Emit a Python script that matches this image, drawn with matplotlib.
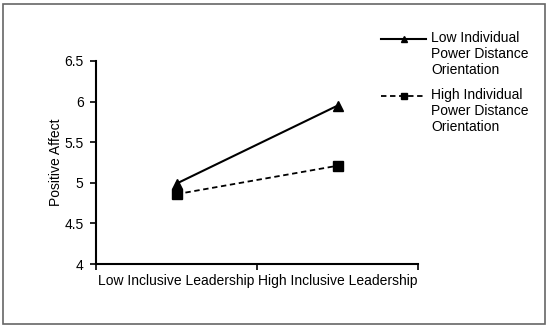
import matplotlib
matplotlib.use("Agg")
import matplotlib.pyplot as plt
from matplotlib.patches import Rectangle
from matplotlib.lines import Line2D

plt.rcParams['font.family'] = ['Liberation Sans', 'DejaVu Sans']

categories = ["Low Inclusive Leadership", "High Inclusive Leadership"]
low_pdo = [4.99, 5.95]
high_pdo = [4.86, 5.21]
series_names = ["Low Individual\nPower Distance\nOrientation",
                "High Individual\nPower Distance\nOrientation"]
yticks = [4, 4.5, 5, 5.5, 6, 6.5]
ytick_labels = ["4", "4.5", "5", "5.5", "6", "6.5"]

W, H = 550, 329
fig = plt.figure(figsize=(5.5, 3.29), dpi=100)
ax = fig.add_axes([96 / W, 1 - 264 / H, (418 - 96) / W, (264 - 61) / H])

xpos = [0.5, 1.5]
ax.plot(xpos, low_pdo, '-', color='black', lw=1.5, marker='^', ms=7)
ax.plot(xpos, high_pdo, '--', color='black', lw=1.3, marker='s', ms=7, dashes=(3, 2))

ax.set_xlim(0, 2)
ax.set_ylim(4, 6.5)
ax.set_yticks(yticks)
ax.set_yticklabels(ytick_labels, fontsize=10)
ax.set_xticks([0, 1, 2])
ax.set_xticklabels([])
ax.set_xticks(xpos, minor=True)
ax.set_xticklabels(categories, minor=True, fontsize=10)
ax.tick_params(axis='x', which='minor', length=0, pad=7)
ax.tick_params(axis='x', which='major', length=4, width=1.2, direction='out')
ax.tick_params(axis='y', length=4, width=1.2, direction='out', pad=5)
for s in ['top', 'right']:
    ax.spines[s].set_visible(False)
for s in ['left', 'bottom']:
    ax.spines[s].set_linewidth(1.5)
ax.set_ylabel("Positive Affect", fontsize=10, labelpad=1)

# manual legend (handle aligned with first text line)
styles = [dict(ls='-', marker='^', lw=1.5), dict(ls='--', marker='s', lw=1.3, dashes=(3, 2))]
leg_y = [39, 96]
for name, st, yy in zip(series_names, styles, leg_y):
    yf = 1 - yy / H
    kw = dict(st)
    mk = kw.pop('marker')
    fig.add_artist(Line2D([381 / W, 426 / W], [yf, yf], transform=fig.transFigure,
                          color='black', **kw))
    fig.add_artist(Line2D([403.5 / W], [yf], transform=fig.transFigure, color='black',
                          marker=mk, ms=5, ls='none'))
    fig.text(431 / W, yf + 8 / H, name, fontsize=10, va='top', ha='left',
             linespacing=1.2)

fig.patches.append(Rectangle((3 / W, 1 - 324 / H), 542 / W, 320 / H, transform=fig.transFigure,
                             fill=False, edgecolor='#666666', lw=1.2))

fig.savefig("out.png", dpi=100)
